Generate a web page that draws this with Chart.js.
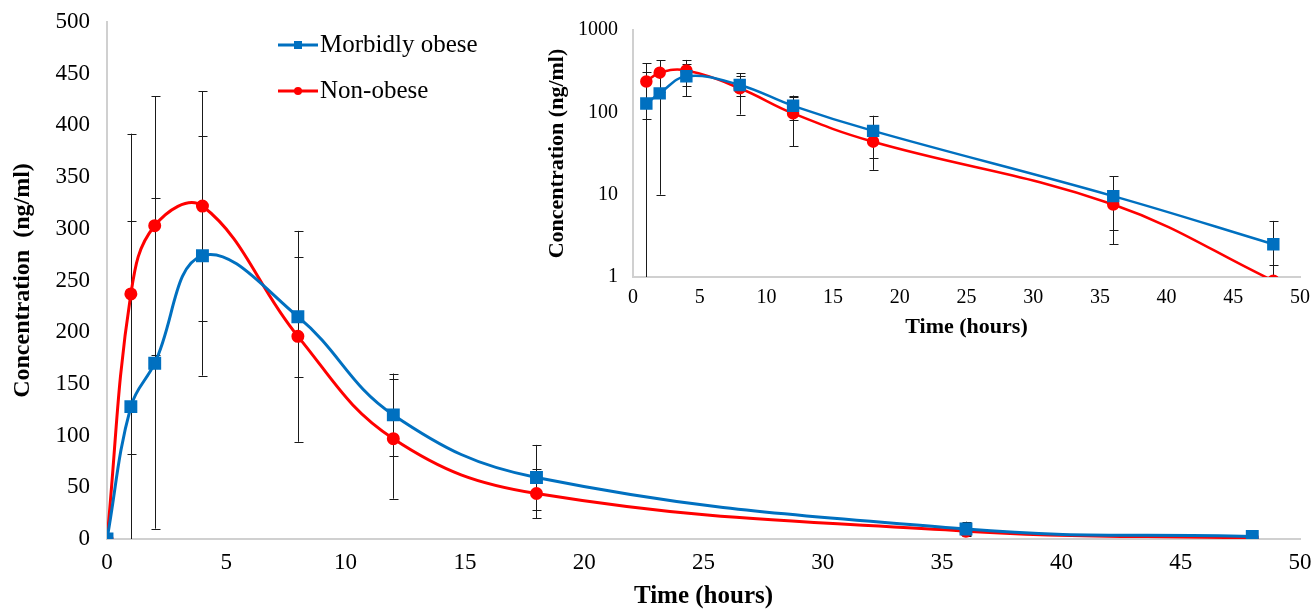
<!DOCTYPE html>
<html>
<head>
<meta charset="utf-8">
<script src="https://cdn.jsdelivr.net/npm/chart.js@4.4.0/dist/chart.umd.min.js"></script>
<style>
  body { margin: 0; background: #fff; }
  #wrap { position: relative; width: 1315px; height: 612px; }
  #main { position: absolute; left: 0; top: 0; }
  #inset { position: absolute; left: 540px; top: 0; }
</style>
</head>
<body>
<div id="wrap">
  <canvas id="main" width="1315" height="612"></canvas>
  <canvas id="inset" width="775" height="345"></canvas>
</div>
<script>
// data (mean and SD, ng/ml)
const times = [0, 1, 2, 4, 8, 12, 18, 36, 48]
const obese = [0, 128, 170, 274, 215, 120, 59.5, 9.6, 2.5]
const obeseSD = [0, 180, 160, 116, 58, 40, 31.5, 7.1, 2.3]
const nonObese = [0, 237, 303, 322, 196, 97, 44, 7.6, 0.9]
const nonObeseSD = [0, 155, 125, 111, 102, 58, 24, 3.9, 0.5]
const seriesNames = ['Morbidly obese', 'Non-obese']
const logTicks = [1, 10, 100, 1000]

const BLUE = '#0070C0'
const RED = '#FF0000'
const AXIS = '#d0d0d0'
const SERIF = "'Liberation Serif', 'Times New Roman', serif"

Chart.defaults.font.family = SERIF
Chart.defaults.color = '#000'

function points(vals, skipFirst) {
  const pts = times.map((t, i) => ({ x: t, y: vals[i] }))
  return skipFirst ? pts.slice(1) : pts
}

// fixed axis box size, and no extra label overflow so layout padding decides the plot edges
function fixBox(size) {
  return s => {
    if (s.isHorizontal()) s.height = size
    else s.width = size
    s.paddingTop = s.paddingBottom = s.paddingLeft = s.paddingRight = 0
  }
}

// draws the SD whiskers under the lines
const errorBars = {
  id: 'errorBars',
  beforeDatasetsDraw(chart) {
    const { ctx, chartArea: a, scales: { x, y } } = chart
    ctx.save()
    ctx.beginPath()
    ctx.rect(a.left, a.top - 2, a.right - a.left, a.bottom - a.top + 2)
    ctx.clip()
    ctx.strokeStyle = '#1a1a1a'
    ctx.lineWidth = 1
    chart.data.datasets.forEach(ds => {
      ds.data.forEach((p, i) => {
        const sd = ds.sd[i]
        if (!sd) return
        const px = Math.round(x.getPixelForValue(p.x)) + 0.5
        const lo = p.y - sd
        const yHi = y.getPixelForValue(p.y + sd)
        const yLo = lo > 0 ? y.getPixelForValue(lo) : a.bottom + 20
        ctx.beginPath()
        ctx.moveTo(px, yHi)
        ctx.lineTo(px, yLo)
        ctx.moveTo(px - 4, Math.round(yHi) + 0.5)
        ctx.lineTo(px + 5, Math.round(yHi) + 0.5)
        ctx.moveTo(px - 4, Math.round(yLo) + 0.5)
        ctx.lineTo(px + 5, Math.round(yLo) + 0.5)
        ctx.stroke()
      })
    })
    ctx.restore()
  }
}

// legend inside the main plot
const innerLegend = {
  id: 'innerLegend',
  afterDraw(chart) {
    const ctx = chart.ctx
    ctx.save()
    ctx.font = '25px ' + SERIF
    ctx.textBaseline = 'middle'
    chart.data.datasets.forEach((ds, i) => {
      const y = 45 + i * 46
      ctx.strokeStyle = ds.borderColor
      ctx.lineWidth = 3
      ctx.beginPath()
      ctx.moveTo(278, y)
      ctx.lineTo(318, y)
      ctx.stroke()
      ctx.fillStyle = ds.borderColor
      if (ds.pointStyle === 'rect') {
        ctx.fillRect(294, y - 4, 8, 8)
      } else {
        ctx.beginPath()
        ctx.arc(298, y, 4, 0, Math.PI * 2)
        ctx.fill()
      }
      ctx.fillStyle = '#000'
      ctx.fillText(ds.label, 320, y)
    })
    ctx.restore()
  }
}

new Chart(document.getElementById('main'), {
  type: 'line',
  data: {
    datasets: [
      {
        label: seriesNames[0], data: points(obese), sd: obeseSD,
        borderColor: BLUE, backgroundColor: BLUE, borderWidth: 3,
        pointStyle: 'rect', pointRadius: 7, tension: 0.4
      },
      {
        label: seriesNames[1], data: points(nonObese), sd: nonObeseSD,
        borderColor: RED, backgroundColor: RED, borderWidth: 3,
        pointStyle: 'circle', pointRadius: 5, tension: 0.4
      }
    ]
  },
  options: {
    responsive: false,
    animation: false,
    layout: { padding: { left: 0, right: 15, top: 22, bottom: 0 } },
    plugins: { legend: { display: false }, tooltip: { enabled: false } },
    scales: {
      x: {
        type: 'linear', min: 0, max: 50,
        ticks: { stepSize: 5, padding: 10, font: { size: 23 } },
        grid: { display: false, drawTicks: false },
        border: { display: true, color: AXIS, width: 2 },
        title: { display: true, text: 'Time (hours)', font: { size: 25, weight: 'bold' }, padding: { top: 0, bottom: 0 } },
        afterFit: fixBox(73)
      },
      y: {
        min: 0, max: 500,
        ticks: { stepSize: 50, padding: 17, font: { size: 23 } },
        grid: { display: false, drawTicks: false },
        border: { display: true, color: AXIS, width: 2 },
        title: { display: true, text: 'Concentration  (ng/ml)', font: { size: 24, weight: 'bold' }, padding: { top: 8, bottom: 0 } },
        afterFit: fixBox(107)
      }
    }
  },
  plugins: [errorBars, innerLegend]
})

new Chart(document.getElementById('inset'), {
  type: 'line',
  data: {
    datasets: [
      {
        label: seriesNames[0], data: points(obese, true), sd: obeseSD.slice(1),
        borderColor: BLUE, backgroundColor: BLUE, borderWidth: 2.5,
        pointStyle: 'rect', pointRadius: 7, tension: 0.4, clip: 0
      },
      {
        label: seriesNames[1], data: points(nonObese, true), sd: nonObeseSD.slice(1),
        borderColor: RED, backgroundColor: RED, borderWidth: 2.5,
        pointStyle: 'circle', pointRadius: 5, tension: 0.4, clip: 0
      }
    ]
  },
  options: {
    responsive: false,
    animation: false,
    layout: { padding: { left: 0, right: 15, top: 30, bottom: 0 } },
    plugins: { legend: { display: false }, tooltip: { enabled: false } },
    scales: {
      x: {
        type: 'linear', min: 0, max: 50,
        ticks: { stepSize: 5, padding: 9, font: { size: 20 } },
        grid: { display: false, drawTicks: false },
        border: { display: true, color: AXIS, width: 2 },
        title: { display: true, text: 'Time (hours)', font: { size: 22, weight: 'bold' }, padding: { top: 0, bottom: 4 } },
        afterFit: fixBox(68)
      },
      y: {
        type: 'logarithmic', min: 1, max: 1000,
        afterBuildTicks: s => { s.ticks = logTicks.map(v => ({ value: v })) },
        ticks: { padding: 15, font: { size: 20 }, callback: v => String(v) },
        grid: { display: false, drawTicks: false },
        border: { display: true, color: AXIS, width: 2 },
        title: { display: true, text: 'Concentration (ng/ml)', font: { size: 22, weight: 'bold' }, padding: { top: 4, bottom: 0 } },
        afterFit: fixBox(93)
      }
    }
  },
  plugins: [errorBars]
})
</script>
</body>
</html>
